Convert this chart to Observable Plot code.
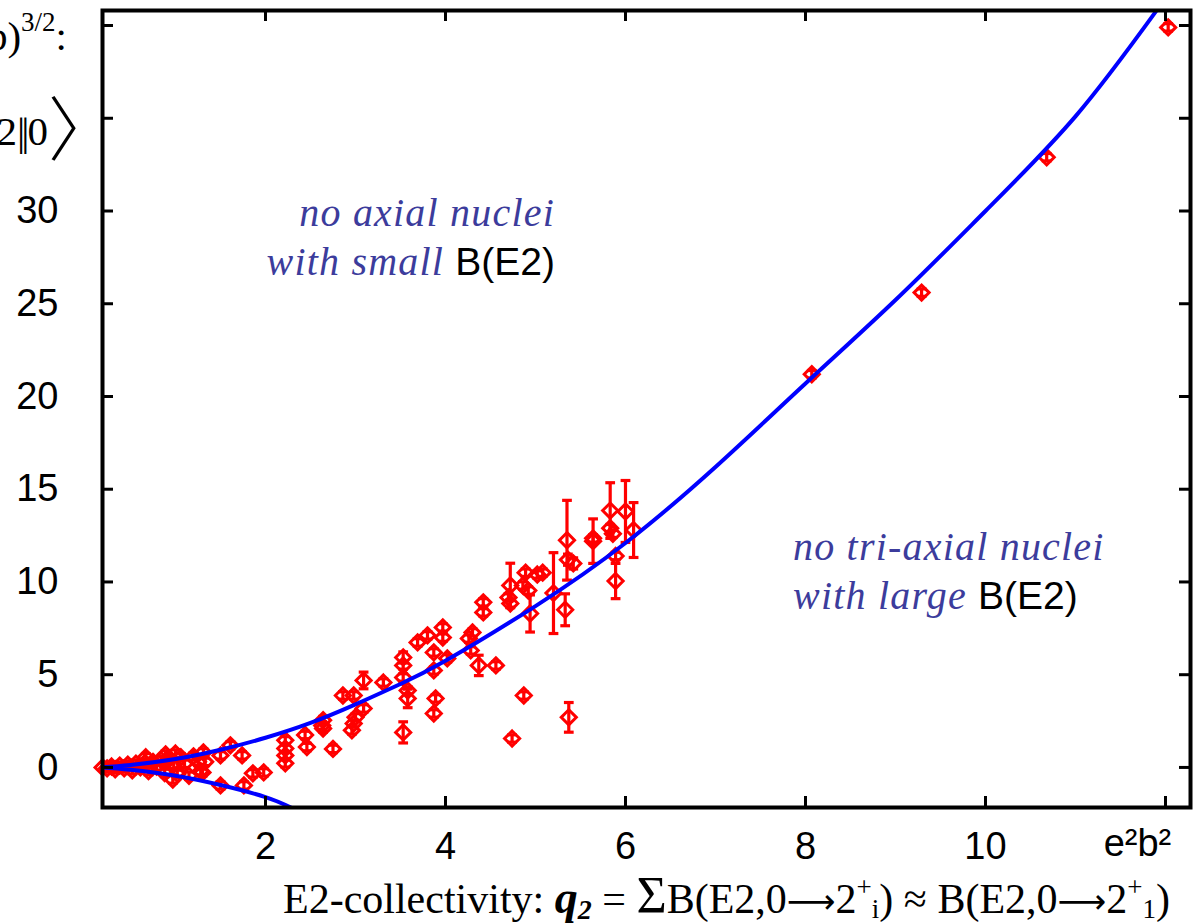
<!DOCTYPE html>
<html><head><meta charset="utf-8">
<script src="https://cdn.jsdelivr.net/npm/d3@7"></script>
<script src="https://cdn.jsdelivr.net/npm/@observablehq/plot@0.6"></script>
<style>body{margin:0;background:#fff;overflow:hidden} #chart svg{display:block}</style>
</head><body><div id="chart"></div>
<script>
// ---- data: E2-collectivity q2 (e²b²) vs triaxiality q3 ((e²b²)^3/2) ----
const qx = [0.19,0.24,0.29,0.33,0.38,0.43,0.47,0.52,0.56,0.61,0.66,0.70,0.75,0.79,0.84,0.88,0.93,0.98,1.02,1.06,1.10,1.15,1.20,1.25,1.28,
  0.67,0.89,1.00,0.97,1.33,
  1.31,1.50,1.61,1.74,1.30,1.50,1.76,1.86,1.98,
  2.22,2.22,2.22,2.22,2.44,2.46,2.63,2.64,2.64,2.75,
  2.86,2.98,3.00,2.98,2.96,3.09,3.09,3.31,
  3.53,3.53,3.53,3.58,3.58,3.53,3.69,3.80,3.97,3.97,3.87,4.02,3.87,3.89,3.87,
  4.42,4.42,4.30,4.26,4.28,4.37,4.56,
  4.72,4.70,4.72,4.89,4.86,4.92,4.94,5.08,5.02,
  5.20,5.35,5.36,5.42,5.33,
  5.64,5.64,5.83,5.83,5.86,5.89,5.89,6.00,6.09,
  5.37,4.74,4.87,
  8.07,9.29,10.68,12.03];
const qy = [0.00,-0.05,0.05,-0.10,0.10,-0.05,0.15,-0.15,0.20,0.00,0.25,-0.20,0.30,0.05,0.40,-0.30,0.45,0.15,-0.35,0.55,0.20,-0.45,0.60,0.30,-0.20,
  0.55,0.70,0.75,-0.65,0.30,
  0.81,0.65,1.19,0.65,-0.27,-0.97,-0.97,-0.32,-0.27,
  1.46,1.02,0.65,0.22,1.75,1.10,2.26,2.55,2.10,1.00,
  3.88,3.88,2.70,2.37,2.00,4.69,3.18,4.58,
  5.93,5.50,4.85,4.15,3.72,1.89,6.74,7.12,7.55,7.00,6.20,5.88,5.23,3.72,2.91,
  8.90,8.36,7.28,6.95,6.31,5.50,5.50,
  9.81,9.16,8.84,10.50,9.81,9.54,8.30,10.50,10.40,
  9.40,12.25,11.20,11.00,8.50,
  12.35,12.20,13.85,12.90,12.60,11.40,10.05,13.80,12.80,
  2.70,1.56,3.88,
  21.20,25.60,32.90,39.90];
const qerr = [0.2,0.2,0.2,0.2,0.2,0.2,0.2,0.2,0.2,0.2,0.2,0.2,0.2,0.2,0.2,0.2,0.2,0.2,0.2,0.2,0.2,0.2,0.2,0.2,0.2,
  0.2,0.2,0.2,0.2,0.2,
  0.2,0.2,0.2,0.2,0.2,0.2,0.2,0.2,0.2,
  0.2,0.2,0.2,0.2,0.2,0.2,0.2,0.2,0.2,0.2,
  0.2,0.2,0.2,0.2,0.2,0.45,0.2,0.2,
  0.3,0.2,0.2,0.2,0.5,0.57,0.2,0.2,0.2,0.2,0.2,0.2,0.2,0.2,0.2,
  0.2,0.2,0.2,0.2,0.2,0.55,0.2,
  1.2,0.2,0.2,0.2,0.2,0.2,1.0,0.2,0.2,
  2.18,2.15,0.3,0.3,0.86,
  0.2,1.2,1.5,0.2,0.2,0.2,0.95,1.67,1.48,
  0.8,0.2,0.2,
  0.2,0.2,0.2,0.2];

// boundary curves
const upperX = [0.17,0.5,1.0,1.5,2.0,2.5,3.0,3.5,4.0,5.0,6.0,7.0,8.0,9.0,10.0,11.0,11.9];
const upperY = [0.0,0.13,0.45,0.95,1.6,2.4,3.4,4.5,5.75,8.7,12.1,16.2,20.7,25.2,30.0,35.1,40.8];
const lowerX = [0.17,0.5,1.0,1.5,2.0,2.3];
const lowerY = [0.0,-0.13,-0.45,-0.95,-1.6,-2.2];

const xTicks = [2,4,6,8,10,12];
const xTickLabels = ["2","4","6","8","10"];
const xUnitLabel = "e²b²";
const yTicks = [0,5,10,15,20,25,30,35,40];
const yTickLabels = ["0","5","10","15","20","25","30"];

const points = qx.map((x,i)=>({x, y: qy[i], e: qerr[i]}));
const upper = upperX.map((x,i)=>({x, y: upperY[i]}));
const lower = lowerX.map((x,i)=>({x, y: lowerY[i]}));

const W = 1198, H = 924, mL = 102, mR = 8, mT = 10, mB = 117;
const plotW = W - mL - mR, plotH = H - mT - mB;
const RED = "#ff0000", BLUE = "#0000ff";
const SANS = "'Liberation Sans', Arial, sans-serif";
const SERIF = "'Liberation Serif', 'Times New Roman', serif";

const capSymbol = {draw(ctx, size){ const w = Math.sqrt(size)/2; ctx.moveTo(-w,0); ctx.lineTo(w,0); }};

const plot = Plot.plot({
  width: W, height: H,
  marginLeft: mL, marginRight: mR, marginTop: mT, marginBottom: mB,
  style: {fontFamily: SANS, background: "white", color: "black"},
  x: {domain: [0.189, 12.278], axis: null},
  y: {domain: [-2.16, 40.81], axis: null},
  marks: [
    Plot.ruleX(points, {x: "x", y1: d=>d.y-d.e, y2: d=>d.y+d.e, stroke: RED, strokeWidth: 3.2, clip: true}),
    Plot.dot(points, {x: "x", y: d=>d.y+d.e, symbol: capSymbol, r: 5.5, stroke: RED, strokeWidth: 3.2, clip: true}),
    Plot.dot(points, {x: "x", y: d=>d.y-d.e, symbol: capSymbol, r: 5.5, stroke: RED, strokeWidth: 3.2, clip: true}),
    Plot.dot(points, {x: "x", y: "y", symbol: "diamond2", r: 6.8, stroke: RED, strokeWidth: 3, fill: "none"}),
    Plot.line(upper, {x: "x", y: "y", stroke: BLUE, strokeWidth: 4, curve: "natural", clip: true}),
    Plot.line(lower, {x: "x", y: "y", stroke: BLUE, strokeWidth: 4, curve: "natural", clip: true}),
    Plot.tickX(xTicks, {x: d=>d, insetTop: plotH-11, stroke: "black", strokeWidth: 3}),
    Plot.tickX(xTicks, {x: d=>d, insetBottom: plotH-11, stroke: "black", strokeWidth: 3}),
    Plot.tickY(yTicks, {y: d=>d, insetLeft: plotW-11, stroke: "black", strokeWidth: 3}),
    Plot.tickY(yTicks, {y: d=>d, insetRight: plotW-11, stroke: "black", strokeWidth: 3}),
    Plot.frame({stroke: "black", strokeWidth: 4}),
    Plot.text(xTickLabels, {x: (d,i)=>xTicks[i], text: d=>d, frameAnchor: "bottom", dy: 51, fontSize: 38, fill: "black"}),
    Plot.text([xUnitLabel], {x: ()=>xTicks[5], text: d=>d, frameAnchor: "bottom", dy: 48, dx: -28, fontSize: 38, fill: "black"}),
    Plot.text(yTickLabels, {y: (d,i)=>yTicks[i], text: d=>d, frameAnchor: "left", dx: -44, textAnchor: "end", fontSize: 38, fill: "black"})
  ]
});
document.getElementById("chart").appendChild(plot);

// ---- annotations & axis titles ----
const svg = d3.select(plot);
const ANN = "#3c3c9c";
function richText(x, y, anchor, size, parts){
  const t = svg.append("text").attr("x", x).attr("y", y).attr("text-anchor", anchor)
    .attr("font-size", size).style("white-space","pre");
  for (const p of parts){
    const s = t.append("tspan").text(p.t)
      .attr("font-family", p.ff || (p.sans ? SANS : SERIF))
      .attr("font-style", p.it ? "italic" : "normal")
      .attr("font-weight", p.b ? "bold" : (p.fw || "normal"))
      .attr("fill", p.c || "black");
    if (p.fs) s.attr("font-size", p.fs);
    if (p.dy) s.attr("dy", p.dy);
    if (p.dx) s.attr("dx", p.dx);
    if (p.ls) s.attr("letter-spacing", p.ls);
  }
  return t;
}
richText(555, 226, "end", 40, [{t:"no axial nuclei", it:true, c:ANN, ls:1.2}]);
richText(555, 275, "end", 40, [{t:"with small ", it:true, c:ANN, ls:1.2},{t:"B(E2)", sans:true, fs:39}]);
richText(793, 560, "start", 40, [{t:"no tri-axial nuclei", it:true, c:ANN, ls:1.2}]);
richText(793, 609, "start", 40, [{t:"with large ", it:true, c:ANN, ls:1.2},{t:"B(E2)", sans:true, fs:39}]);

// x-axis title
richText(283, 913, "start", 42, [
  {t:"E2-collectivity: "},
  {t:"q", it:true, b:true, fs:46},{t:"2", it:true, b:true, fs:28, dy:6},
  {t:" = ", dy:-6},
  {t:"Σ", fs:52},
  {t:"B(E2,0"},{t:"⟶", ff:"'DejaVu Sans', sans-serif", fs:34},{t:"2"},
  {t:"+", fs:27, dy:-17},{t:"i", fs:27, dy:22},
  {t:") ≈ B(E2,0", dy:-5},{t:"⟶", ff:"'DejaVu Sans', sans-serif", fs:34},{t:"2"},
  {t:"+", fs:27, dy:-17},{t:"1", fs:27, dy:22},
  {t:")", dy:-5}
]);

// y-axis title (cut at left edge)
richText(67, 50, "end", 41, [
  {t:"(e²b"},{t:")"},{t:"3/2", fs:27, dy:-19},{t:":", dy:19}
]);
richText(48, 145, "end", 41, [
  {t:"⟨0|[Q×Q]"},{t:"2", fs:27, dy:-16},{t:"|2", dy:16},{t:"||", ls:-4},{t:"0", dx:2}
]);
richText(48, 155, "start", 70, [
  {t:"〉", ff:"'Noto Sans CJK JP', sans-serif", fw:300}
]);
</script>
</body></html>
